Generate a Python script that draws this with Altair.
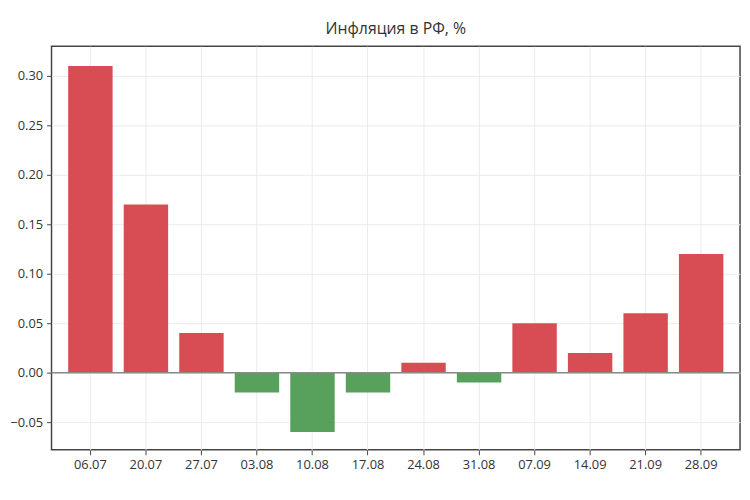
import pandas as pd
import altair as alt

# weekly inflation, %
weeks = ['06.07', '20.07', '27.07', '03.08', '10.08', '17.08',
         '24.08', '31.08', '07.09', '14.09', '21.09', '28.09']
values = [0.31, 0.17, 0.04, -0.02, -0.06, -0.02,
          0.01, -0.01, 0.05, 0.02, 0.06, 0.12]
y_ticks = [-0.05, 0.0, 0.05, 0.10, 0.15, 0.20, 0.25, 0.30]

df = pd.DataFrame({'week': weeks, 'value': values})
df['sign'] = ['up' if v > 0 else 'down' for v in values]

bars = alt.Chart(df).mark_bar(opacity=0.95).encode(
    alt.X('week:N', sort=weeks, title=None,
          scale=alt.Scale(paddingInner=0.2, paddingOuter=0.3)),
    alt.Y('value:Q', title=None,
          scale=alt.Scale(domain=[-0.078, 0.33], nice=False, zero=False),
          axis=alt.Axis(values=y_ticks, format='.2f')),
    color=alt.Color('sign:N', legend=None,
                    scale=alt.Scale(domain=['up', 'down'], range=['#d6434a', '#4e9c54'])),
)

zero = alt.Chart(pd.DataFrame({'y': [0]})).mark_rule(color='#8a8a8a', strokeWidth=1.5).encode(
    y='y:Q'
)

chart = (bars + zero).properties(
    width=696,
    height=408,
    title=alt.TitleParams('Инфляция в РФ, %', fontSize=16, fontWeight='normal',
                          color='#333333', offset=9),
    autosize=alt.AutoSizeParams(type='none'),
    padding={'left': 44, 'top': 36, 'right': 2, 'bottom': 40},
).configure_view(
    stroke='#444444', strokeWidth=1.5
).configure_axis(
    domain=False,
    grid=True,
    gridColor='#ebebeb',
    tickColor='#444444',
    tickSize=5,
    labelColor='#333333',
    labelFontSize=13,
    labelFont='Open Sans',
    labelAngle=0,
    labelPadding=4,
).configure_title(
    font='Open Sans'
)

chart.save("out.html", embed_options={"renderer": "svg", "actions": False})
